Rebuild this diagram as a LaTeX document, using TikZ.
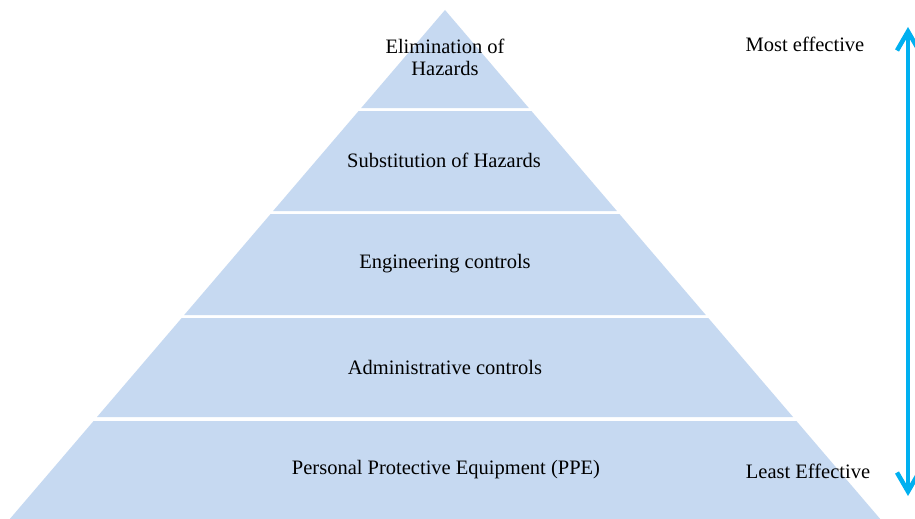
\documentclass[tikz,border=0pt]{standalone}
\usepackage{fontspec}
\setmainfont{Liberation Serif}
\usetikzlibrary{arrows.meta}
\definecolor{bandblue}{HTML}{C6D9F1}
\definecolor{arrowcyan}{HTML}{00B0F0}
\tikzset{
  band/.style={fill=bandblue, draw=none},
  lbl/.style={font=\fontsize{20.5}{22}\selectfont, text=black, align=center, inner sep=0pt},
  efflbl/.style={font=\fontsize{20.5}{22}\selectfont, text=black, inner sep=0pt},
  effarrow/.style={draw=arrowcyan, line width=4.5pt, {Straight Barb[length=19pt,width=22pt,line width=4.5pt]}-{Straight Barb[length=19pt,width=22pt,line width=4.5pt]}}
}
\begin{document}
\begin{tikzpicture}[x=1pt,y=-1pt]
\useasboundingbox (0,0) rectangle (915,519);
\fill[white] (0,0) rectangle (915,519);
% bands
\path[band] (445,10) -- (528.8,108) -- (361.2,108) -- cycle;
\path[band] (358.6,111) -- (531.4,111) -- (616.9,211) -- (273.1,211) -- cycle;
\path[band] (270.6,214) -- (619.4,214) -- (705.8,315) -- (184.2,315) -- cycle;
\path[band] (181.7,318) -- (708.3,318) -- (793,417) -- (97,417) -- cycle;
\path[band] (93.6,421) -- (796.4,421) -- (880.2,519) -- (9.8,519) -- cycle;
% labels
\node[lbl] (elim) at (445,57) {Elimination of\\Hazards};
\node[lbl] (subst) at (444,160) {Substitution of Hazards};
\node[lbl] (eng) at (445,264) {Engineering controls};
\node[lbl] (admin) at (445,367) {Administrative controls};
\node[lbl] (ppe) at (446,470) {Personal Protective Equipment (PPE)};
\node[efflbl] (most) at (805,44) {Most effective};
\node[efflbl] (least) at (808,471) {Least Effective};
% arrow
\coordinate (atop) at (908,27);
\coordinate (abot) at (908,496);
\draw[effarrow] (abot) -- (atop);
\end{tikzpicture}
\end{document}
